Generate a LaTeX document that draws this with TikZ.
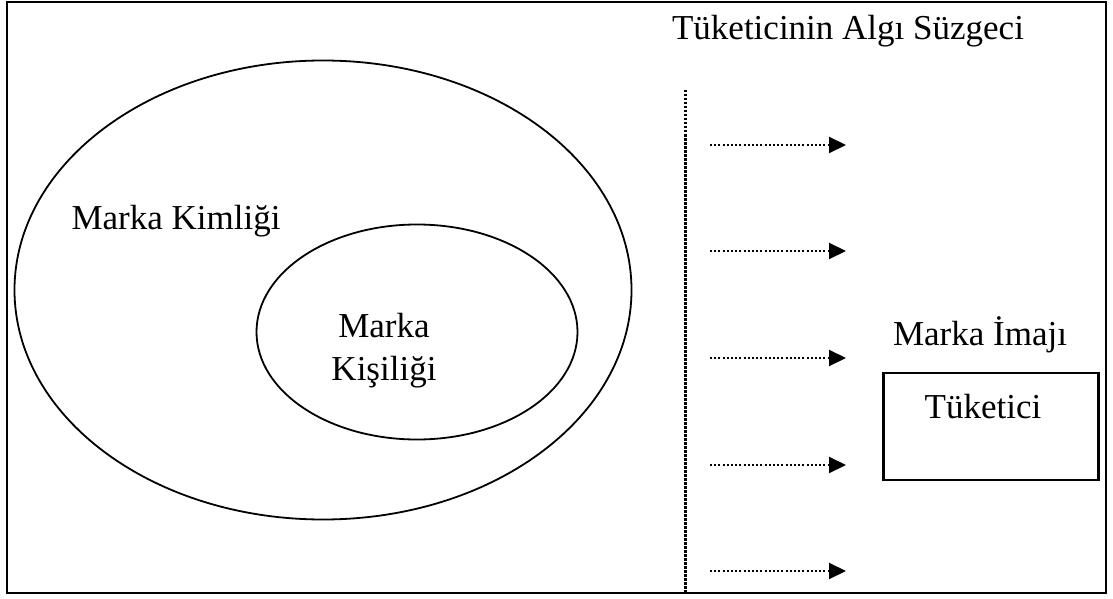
\documentclass[tikz,border=0pt]{standalone}
\usepackage{fontspec}
\setmainfont{Liberation Serif}
\usepackage{tikz}
\usetikzlibrary{arrows.meta,positioning,shapes.geometric}
\tikzset{
  frame/.style={draw, line width=2.6pt},
  oval/.style={draw, ellipse, line width=1.8pt, inner sep=0pt},
  lbl/.style={font=\fontsize{35}{43}\selectfont, align=center, inner sep=0pt, anchor=base},
  filter/.style={line width=3pt, dash pattern=on 2.5pt off 1.5pt},
  flow/.style={line width=2pt, dash pattern=on 2pt off 2.2pt, -{Triangle[length=17pt, width=16pt]}},
  consumer/.style={draw, line width=2.6pt, minimum width=215pt, minimum height=107pt}
}
\begin{document}
\begin{tikzpicture}[x=1pt, y=-1pt]
\useasboundingbox (0,0) rectangle (1113,599);
\draw[frame] (7,2) rectangle (1106,593);
% identity and personality
\node[oval, minimum width=617pt, minimum height=459pt] (kimlik) at (323,290) {};
\node[oval, minimum width=321pt, minimum height=215pt] (kisilik) at (417,332) {};
\node[lbl] (kimliklbl) at (176,229) {Marka Kimliği};
\node[lbl] (kisiliklbl) at (384,380) {Marka\\Kişiliği};
% perception filter
\node[lbl] (filterlbl) at (848,40) {Tüketicinin Algı Süzgeci};
\coordinate (ftop) at (685,90);
\coordinate (fbot) at (685,593);
\draw[filter] (ftop) -- (fbot);
\foreach \y [count=\i] in {145,251,358,465,571} {
  \coordinate (a\i) at (710,\y);
  \coordinate (b\i) at (846,\y);
  \draw[flow] (a\i) -- (b\i);
}
% image
\node[lbl] (imajlbl) at (980,345) {Marka İmajı};
\node[consumer] (tuketici) at (991,426.5) {};
\node[lbl] (tuketicilbl) at (983,418) {Tüketici};
\end{tikzpicture}
\end{document}
